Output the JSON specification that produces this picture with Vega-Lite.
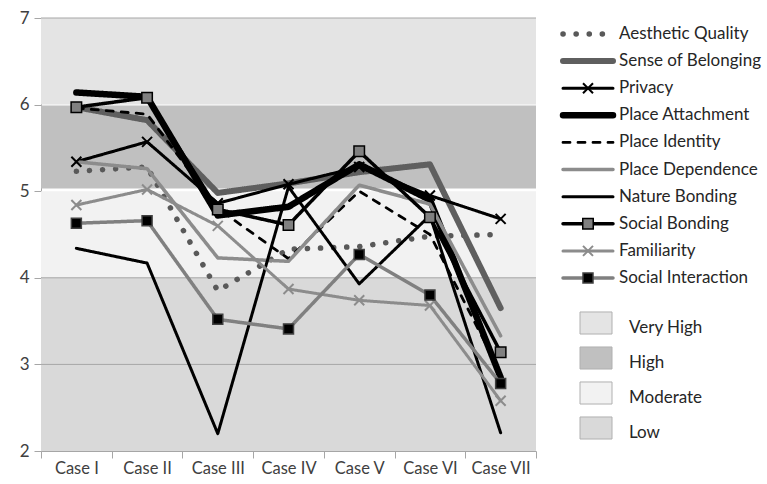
{
  "$schema": "https://vega.github.io/schema/vega-lite/v6.json",
  "padding": {"left": 19, "top": 9, "right": 0, "bottom": 0},
  "background": "white",
  "config": {"view": {"stroke": null}, "font": "Lato"},
  "datasets": {
    "scores": [
      {"s": "Aesthetic Quality", "c": "Case I", "v": 5.23},
      {"s": "Aesthetic Quality", "c": "Case II", "v": 5.28},
      {"s": "Aesthetic Quality", "c": "Case III", "v": 3.85},
      {"s": "Aesthetic Quality", "c": "Case IV", "v": 4.33},
      {"s": "Aesthetic Quality", "c": "Case V", "v": 4.36},
      {"s": "Aesthetic Quality", "c": "Case VI", "v": 4.48},
      {"s": "Aesthetic Quality", "c": "Case VII", "v": 4.5},
      {"s": "Sense of Belonging", "c": "Case I", "v": 5.97},
      {"s": "Sense of Belonging", "c": "Case II", "v": 5.82},
      {"s": "Sense of Belonging", "c": "Case III", "v": 4.98},
      {"s": "Sense of Belonging", "c": "Case IV", "v": 5.09},
      {"s": "Sense of Belonging", "c": "Case V", "v": 5.22},
      {"s": "Sense of Belonging", "c": "Case VI", "v": 5.31},
      {"s": "Sense of Belonging", "c": "Case VII", "v": 3.65},
      {"s": "Privacy", "c": "Case I", "v": 5.34},
      {"s": "Privacy", "c": "Case II", "v": 5.57},
      {"s": "Privacy", "c": "Case III", "v": 4.86},
      {"s": "Privacy", "c": "Case IV", "v": 5.08},
      {"s": "Privacy", "c": "Case V", "v": 5.28},
      {"s": "Privacy", "c": "Case VI", "v": 4.95},
      {"s": "Privacy", "c": "Case VII", "v": 4.68},
      {"s": "Place Attachment", "c": "Case I", "v": 6.14},
      {"s": "Place Attachment", "c": "Case II", "v": 6.09},
      {"s": "Place Attachment", "c": "Case III", "v": 4.72},
      {"s": "Place Attachment", "c": "Case IV", "v": 4.82},
      {"s": "Place Attachment", "c": "Case V", "v": 5.31},
      {"s": "Place Attachment", "c": "Case VI", "v": 4.9},
      {"s": "Place Attachment", "c": "Case VII", "v": 2.85},
      {"s": "Place Identity", "c": "Case I", "v": 5.96},
      {"s": "Place Identity", "c": "Case II", "v": 5.89},
      {"s": "Place Identity", "c": "Case III", "v": 4.8},
      {"s": "Place Identity", "c": "Case IV", "v": 4.22},
      {"s": "Place Identity", "c": "Case V", "v": 5.0},
      {"s": "Place Identity", "c": "Case VI", "v": 4.5},
      {"s": "Place Identity", "c": "Case VII", "v": 2.9},
      {"s": "Place Dependence", "c": "Case I", "v": 5.34},
      {"s": "Place Dependence", "c": "Case II", "v": 5.26},
      {"s": "Place Dependence", "c": "Case III", "v": 4.23},
      {"s": "Place Dependence", "c": "Case IV", "v": 4.19},
      {"s": "Place Dependence", "c": "Case V", "v": 5.07},
      {"s": "Place Dependence", "c": "Case VI", "v": 4.85},
      {"s": "Place Dependence", "c": "Case VII", "v": 3.33},
      {"s": "Nature Bonding", "c": "Case I", "v": 4.34},
      {"s": "Nature Bonding", "c": "Case II", "v": 4.17},
      {"s": "Nature Bonding", "c": "Case III", "v": 2.2},
      {"s": "Nature Bonding", "c": "Case IV", "v": 5.05},
      {"s": "Nature Bonding", "c": "Case V", "v": 3.93},
      {"s": "Nature Bonding", "c": "Case VI", "v": 4.72},
      {"s": "Nature Bonding", "c": "Case VII", "v": 2.21},
      {"s": "Social Bonding", "c": "Case I", "v": 5.97},
      {"s": "Social Bonding", "c": "Case II", "v": 6.08},
      {"s": "Social Bonding", "c": "Case III", "v": 4.79},
      {"s": "Social Bonding", "c": "Case IV", "v": 4.61},
      {"s": "Social Bonding", "c": "Case V", "v": 5.46},
      {"s": "Social Bonding", "c": "Case VI", "v": 4.7},
      {"s": "Social Bonding", "c": "Case VII", "v": 3.14},
      {"s": "Familiarity", "c": "Case I", "v": 4.84},
      {"s": "Familiarity", "c": "Case II", "v": 5.02},
      {"s": "Familiarity", "c": "Case III", "v": 4.6},
      {"s": "Familiarity", "c": "Case IV", "v": 3.87},
      {"s": "Familiarity", "c": "Case V", "v": 3.74},
      {"s": "Familiarity", "c": "Case VI", "v": 3.68},
      {"s": "Familiarity", "c": "Case VII", "v": 2.58},
      {"s": "Social Interaction", "c": "Case I", "v": 4.63},
      {"s": "Social Interaction", "c": "Case II", "v": 4.66},
      {"s": "Social Interaction", "c": "Case III", "v": 3.52},
      {"s": "Social Interaction", "c": "Case IV", "v": 3.41},
      {"s": "Social Interaction", "c": "Case V", "v": 4.27},
      {"s": "Social Interaction", "c": "Case VI", "v": 3.8},
      {"s": "Social Interaction", "c": "Case VII", "v": 2.78}
    ],
    "bands": [
      {"band": "Very High", "lo": 6, "hi": 7},
      {"band": "High", "lo": 5.03, "hi": 5.99},
      {"band": "Moderate", "lo": 4, "hi": 5},
      {"band": "Low", "lo": 2, "hi": 4}
    ],
    "grid": [{"g": 3}, {"g": 4}, {"g": 7}],
    "names": [
      {"s": "Aesthetic Quality"}, {"s": "Sense of Belonging"}, {"s": "Privacy"},
      {"s": "Place Attachment"}, {"s": "Place Identity"}, {"s": "Place Dependence"},
      {"s": "Nature Bonding"}, {"s": "Social Bonding"}, {"s": "Familiarity"},
      {"s": "Social Interaction"}
    ]
  },
  "hconcat": [
    {
      "width": 495,
      "height": 433,
      "layer": [
        {
          "data": {"name": "bands"},
          "mark": {"type": "rect"},
          "encoding": {
            "y": {"field": "lo", "type": "quantitative", "scale": {"domain": [2, 7]}},
            "y2": {"field": "hi"},
            "fill": {"field": "band", "type": "nominal", "legend": null,
              "scale": {"domain": ["Very High", "High", "Moderate", "Low"], "range": ["#e4e4e4", "#c0c0c0", "#f2f2f2", "#d9d9d9"]}}
          }
        },
        {
          "data": {"name": "grid"},
          "mark": {"type": "rule", "color": "#a6a6a6", "strokeWidth": 1},
          "encoding": {"y": {"field": "g", "type": "quantitative"}}
        },
        {
          "data": {"name": "scores"},
          "mark": {"type": "line", "strokeCap": "round", "strokeJoin": "round"},
          "encoding": {
            "x": {"field": "c", "type": "ordinal", "title": null,
              "scale": {"domain": ["Case I", "Case II", "Case III", "Case IV", "Case V", "Case VI", "Case VII"], "paddingInner": 0, "paddingOuter": 0},
              "axis": {"labelAngle": 0, "tickBand": "extent", "domainColor": "#a6a6a6", "tickColor": "#a6a6a6", "tickSize": 7, "labelPadding": 2, "labelFont": "Lato", "labelFontSize": 16.5, "labelColor": "#404040"}},
            "y": {"field": "v", "type": "quantitative", "title": null,
              "scale": {"domain": [2, 7], "nice": false},
              "axis": {"values": [2, 3, 4, 5, 6, 7], "format": "d", "grid": false, "domainColor": "#a6a6a6", "tickColor": "#a6a6a6", "tickSize": 7, "labelPadding": 5, "labelFont": "Lato", "labelFontSize": 17, "labelColor": "#404040"}},
            "color": {"field": "s", "type": "nominal", "legend": null,
              "scale": {"domain": ["Aesthetic Quality", "Sense of Belonging", "Privacy", "Place Attachment", "Place Identity", "Place Dependence", "Nature Bonding", "Social Bonding", "Familiarity", "Social Interaction"],
                "range": ["#595959", "#5f5f5f", "#000000", "#000000", "#000000", "#8c8c8c", "#000000", "#000000", "#8c8c8c", "#808080"]}},
            "strokeWidth": {"field": "s", "type": "nominal", "legend": null,
              "scale": {"type": "ordinal", "domain": ["Aesthetic Quality", "Sense of Belonging", "Privacy", "Place Attachment", "Place Identity", "Place Dependence", "Nature Bonding", "Social Bonding", "Familiarity", "Social Interaction"],
                "range": [5.5, 6, 3, 6.5, 2.8, 3.5, 3, 3.5, 3, 3.5]}},
            "strokeDash": {"field": "s", "type": "nominal", "legend": null,
              "scale": {"domain": ["Aesthetic Quality", "Sense of Belonging", "Privacy", "Place Attachment", "Place Identity", "Place Dependence", "Nature Bonding", "Social Bonding", "Familiarity", "Social Interaction"],
                "range": [[0.1, 13], [1, 0], [1, 0], [1, 0], [7, 8], [1, 0], [1, 0], [1, 0], [1, 0], [1, 0]]}}
          }
        },
        {
          "data": {"name": "scores"},
          "transform": [{"filter": "datum.s == 'Privacy'"}],
          "mark": {"type": "point", "shape": "M-1,-1L1,1M-1,1L1,-1", "filled": false, "stroke": "#000000", "size": 100, "strokeWidth": 2, "opacity": 1},
          "encoding": {"x": {"field": "c", "type": "ordinal"}, "y": {"field": "v", "type": "quantitative"}}
        },
        {
          "data": {"name": "scores"},
          "transform": [{"filter": "datum.s == 'Familiarity'"}],
          "mark": {"type": "point", "shape": "M-1,-1L1,1M-1,1L1,-1", "filled": false, "stroke": "#8c8c8c", "size": 100, "strokeWidth": 2, "opacity": 1},
          "encoding": {"x": {"field": "c", "type": "ordinal"}, "y": {"field": "v", "type": "quantitative"}}
        },
        {
          "data": {"name": "scores"},
          "transform": [{"filter": "datum.s == 'Social Bonding'"}],
          "mark": {"type": "point", "shape": "square", "filled": true, "fill": "#808080", "stroke": "#000000", "size": 110, "strokeWidth": 1.5, "opacity": 1},
          "encoding": {"x": {"field": "c", "type": "ordinal"}, "y": {"field": "v", "type": "quantitative"}}
        },
        {
          "data": {"name": "scores"},
          "transform": [{"filter": "datum.s == 'Social Interaction'"}],
          "mark": {"type": "point", "shape": "square", "filled": true, "fill": "#000000", "stroke": "#404040", "size": 100, "strokeWidth": 1.5, "opacity": 1},
          "encoding": {"x": {"field": "c", "type": "ordinal"}, "y": {"field": "v", "type": "quantitative"}}
        }
      ]
    },
    {
      "vconcat": [
        {
          "width": 200,
          "height": 276,
          "data": {"name": "names"},
          "layer": [
            {
              "mark": {"type": "rule", "strokeCap": "round"},
              "encoding": {
                "x": {"datum": 0, "type": "quantitative", "scale": {"domain": [0, 4]}, "axis": null},
                "x2": {"datum": 1},
                "y": {"field": "s", "type": "ordinal", "axis": null,
                  "scale": {"type": "point", "padding": 0.59, "domain": ["Aesthetic Quality", "Sense of Belonging", "Privacy", "Place Attachment", "Place Identity", "Place Dependence", "Nature Bonding", "Social Bonding", "Familiarity", "Social Interaction"]}},
                "color": {"field": "s", "type": "nominal", "legend": null,
                  "scale": {"domain": ["Aesthetic Quality", "Sense of Belonging", "Privacy", "Place Attachment", "Place Identity", "Place Dependence", "Nature Bonding", "Social Bonding", "Familiarity", "Social Interaction"],
                    "range": ["#595959", "#5f5f5f", "#000000", "#000000", "#000000", "#8c8c8c", "#000000", "#000000", "#8c8c8c", "#808080"]}},
                "strokeWidth": {"field": "s", "type": "nominal", "legend": null,
                  "scale": {"type": "ordinal", "domain": ["Aesthetic Quality", "Sense of Belonging", "Privacy", "Place Attachment", "Place Identity", "Place Dependence", "Nature Bonding", "Social Bonding", "Familiarity", "Social Interaction"],
                    "range": [5.5, 6, 3, 6.5, 2.8, 3.5, 3, 3.5, 3, 3.5]}},
                "strokeDash": {"field": "s", "type": "nominal", "legend": null,
                  "scale": {"domain": ["Aesthetic Quality", "Sense of Belonging", "Privacy", "Place Attachment", "Place Identity", "Place Dependence", "Nature Bonding", "Social Bonding", "Familiarity", "Social Interaction"],
                    "range": [[0.1, 13], [1, 0], [1, 0], [1, 0], [7, 8], [1, 0], [1, 0], [1, 0], [1, 0], [1, 0]]}}
              }
            },
            {
              "transform": [{"filter": "datum.s == 'Privacy'"}],
              "mark": {"type": "point", "shape": "M-1,-1L1,1M-1,1L1,-1", "filled": false, "stroke": "#000000", "size": 100, "strokeWidth": 2, "opacity": 1},
              "encoding": {"x": {"datum": 0.5, "type": "quantitative"}, "y": {"field": "s", "type": "ordinal"}}
            },
            {
              "transform": [{"filter": "datum.s == 'Familiarity'"}],
              "mark": {"type": "point", "shape": "M-1,-1L1,1M-1,1L1,-1", "filled": false, "stroke": "#8c8c8c", "size": 100, "strokeWidth": 2, "opacity": 1},
              "encoding": {"x": {"datum": 0.5, "type": "quantitative"}, "y": {"field": "s", "type": "ordinal"}}
            },
            {
              "transform": [{"filter": "datum.s == 'Social Bonding'"}],
              "mark": {"type": "point", "shape": "square", "filled": true, "fill": "#808080", "stroke": "#000000", "size": 110, "strokeWidth": 1.5, "opacity": 1},
              "encoding": {"x": {"datum": 0.5, "type": "quantitative"}, "y": {"field": "s", "type": "ordinal"}}
            },
            {
              "transform": [{"filter": "datum.s == 'Social Interaction'"}],
              "mark": {"type": "point", "shape": "square", "filled": true, "fill": "#000000", "stroke": "#404040", "size": 100, "strokeWidth": 1.5, "opacity": 1},
              "encoding": {"x": {"datum": 0.5, "type": "quantitative"}, "y": {"field": "s", "type": "ordinal"}}
            },
            {
              "mark": {"type": "text", "align": "left", "baseline": "middle", "font": "Lato", "fontSize": 17, "color": "#262626"},
              "encoding": {
                "x": {"datum": 1.12, "type": "quantitative"},
                "y": {"field": "s", "type": "ordinal"},
                "text": {"field": "s"}
              }
            }
          ]
        },
        {
          "width": 200,
          "height": 140,
          "data": {"name": "bands"},
          "layer": [
            {
              "mark": {"type": "rect", "stroke": "#b0b0b0", "strokeWidth": 1},
              "encoding": {
                "x": {"datum": 0.34, "type": "quantitative", "scale": {"domain": [0, 4]}, "axis": null},
                "x2": {"datum": 0.98},
                "y": {"field": "band", "type": "nominal", "axis": null,
                  "scale": {"type": "band", "paddingInner": 0.37, "paddingOuter": 0.185, "domain": ["Very High", "High", "Moderate", "Low"]}},
                "fill": {"field": "band", "type": "nominal", "legend": null,
                  "scale": {"domain": ["Very High", "High", "Moderate", "Low"], "range": ["#e4e4e4", "#c0c0c0", "#f2f2f2", "#d9d9d9"]}}
              }
            },
            {
              "mark": {"type": "text", "align": "left", "baseline": "middle", "dy": 5, "font": "Lato", "fontSize": 17, "color": "#262626"},
              "encoding": {
                "x": {"datum": 1.32, "type": "quantitative"},
                "y": {"field": "band", "type": "nominal"},
                "text": {"field": "band"}
              }
            }
          ]
        }
      ],
      "spacing": 11.5,
      "bounds": "flush"
    }
  ],
  "spacing": 27,
  "bounds": "flush"
}
